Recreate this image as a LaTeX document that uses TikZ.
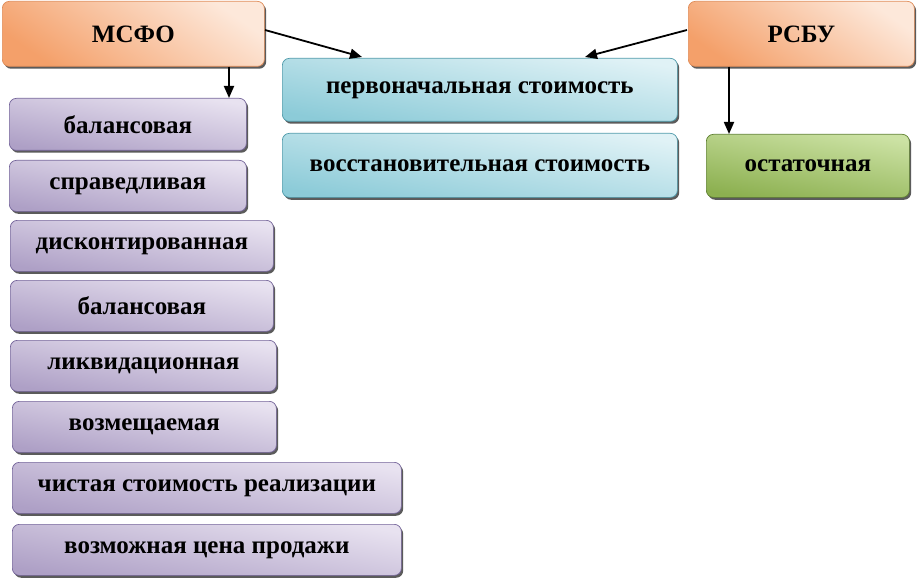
\documentclass[tikz,border=0pt]{standalone}
\usepackage{fontspec}
\setmainfont{Liberation Serif}
\usetikzlibrary{arrows.meta,shadows}
\definecolor{orL}{HTML}{FDE8DA}
\definecolor{orD}{HTML}{F4A06A}
\definecolor{orB}{HTML}{E08C58}
\definecolor{puL}{HTML}{E8E2F0}
\definecolor{puD}{HTML}{AEA0C6}
\definecolor{puB}{HTML}{74649A}
\definecolor{blL}{HTML}{E0F2F6}
\definecolor{blD}{HTML}{8CCBD8}
\definecolor{blB}{HTML}{4E9AAA}
\definecolor{grL}{HTML}{CCE2A4}
\definecolor{grD}{HTML}{8CB050}
\definecolor{grB}{HTML}{5E8030}
\definecolor{shad}{HTML}{333333}
\tikzset{
  basebox/.style={rounded corners=7pt, anchor=north west, inner sep=0pt,
    align=center, text=black, line width=0.7pt,
    font=\fontsize{25}{28}\selectfont\bfseries,
    drop shadow={shadow xshift=1.8pt, shadow yshift=-2.4pt, opacity=0.8, fill=shad}},
  orbox/.style={basebox, draw=orB, top color=orL, bottom color=orD, shading angle=-35},
  pubox/.style={basebox, draw=puB, top color=puL, bottom color=puD, shading angle=-10},
  blbox/.style={basebox, draw=blB, top color=blL, bottom color=blD, shading angle=-10},
  grbox/.style={basebox, draw=grB, top color=grL, bottom color=grD, shading angle=-10},
  arr/.style={-{Triangle[length=12pt,width=10pt]}, line width=1.8pt, black},
}
\begin{document}
\begin{tikzpicture}[x=1pt,y=-1pt]
\useasboundingbox[fill=white] (0,0) rectangle (917,580);
\node[orbox, minimum width=262pt, minimum height=65pt] (msfo) at (2,1) {МСФО};
\node[orbox, minimum width=226pt, minimum height=65pt] (rsbu) at (688,1) {РСБУ};
\node[blbox, minimum width=395pt, minimum height=63pt] (b1) at (282,58) {первоначальная стоимость};
\node[blbox, minimum width=395pt, minimum height=64pt] (b2) at (282,133) {восстановительная стоимость};
\node[grbox, minimum width=203pt, minimum height=63pt] (gr) at (706,134) {остаточная};
\node[pubox, minimum width=237pt, minimum height=52pt] (p1) at (9,98) {балансовая};
\node[pubox, minimum width=237pt, minimum height=51pt] (p2) at (9,160) {справедливая};
\node[pubox, minimum width=263pt, minimum height=51pt] (p3) at (10,220) {дисконтированная};
\node[pubox, minimum width=263pt, minimum height=51pt] (p4) at (10,280) {балансовая};
\node[pubox, minimum width=266pt, minimum height=51pt] (p5) at (10,340) {ликвидационная};
\node[pubox, minimum width=264pt, minimum height=51pt] (p6) at (12,401) {возмещаемая};
\node[pubox, minimum width=389pt, minimum height=51pt] (p7) at (12,462) {чистая стоимость реализации};
\node[pubox, minimum width=389pt, minimum height=51pt] (p8) at (12,524) {возможная цена продажи};
\coordinate (cm) at (229,0);
\coordinate (cr) at (729,0);
\coordinate (b1l) at (362,57);
\coordinate (b1r) at (585,57);
\coordinate (ms) at (265,30);
\coordinate (rs) at (687,30);
\draw[arr] (cm |- msfo.south) -- (cm |- p1.north);
\draw[arr] (cr |- rsbu.south) -- (cr |- gr.north);
\draw[arr] (ms) -- (b1l);
\draw[arr] (rs) -- (b1r);
\end{tikzpicture}
\end{document}
